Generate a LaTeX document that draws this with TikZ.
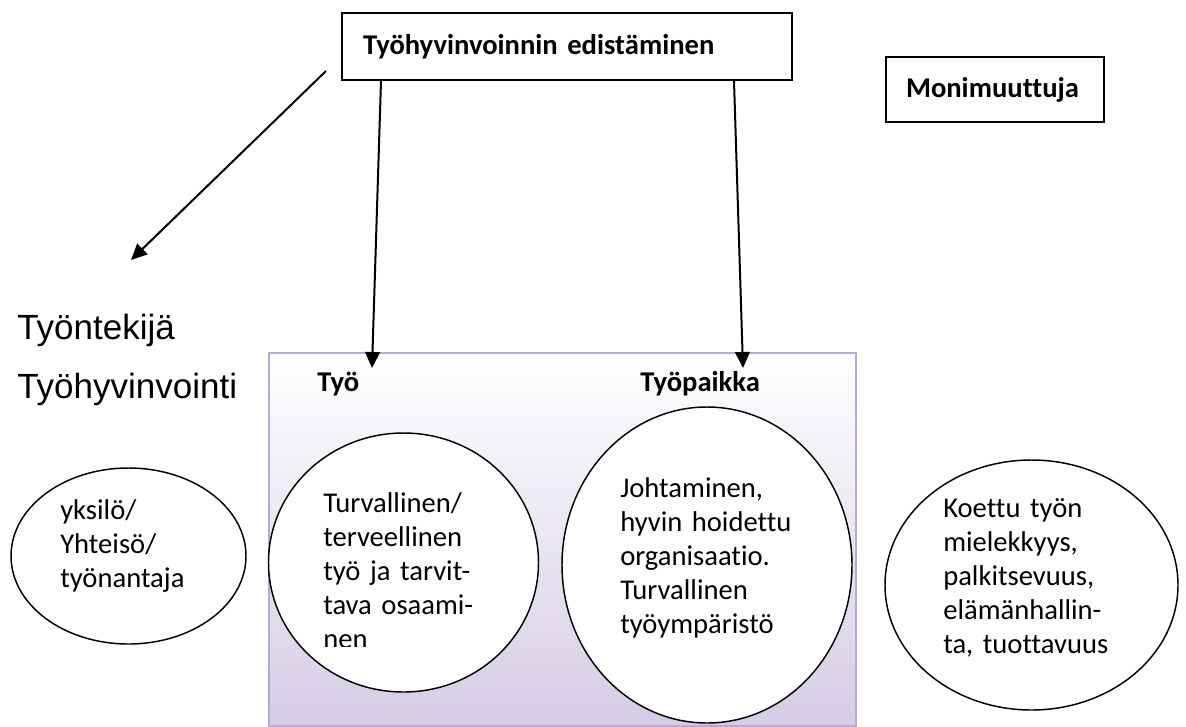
\documentclass[tikz,border=0pt]{standalone}
\usepackage{fontspec}
\setmainfont{Carlito}[Ligatures={NoCommon}]
\newfontfamily\arialf{Liberation Sans}
\usetikzlibrary{arrows.meta,shapes.geometric}
\definecolor{lav}{RGB}{213,204,229}
\definecolor{lavborder}{RGB}{184,170,214}
\begin{document}
\begin{tikzpicture}[x=0.75pt,y=-0.75pt,
  box/.style={draw=black, line width=1.5pt, rectangle, inner ysep=0pt, align=left},
  arr/.style={line width=1.5pt, -{Triangle[width=11pt,length=12pt]}},
  bubble/.style={draw=black, line width=1.1pt, ellipse, fill=white, inner sep=0pt},
  ctext/.style={font=\fontsize{21.45pt}{25.5pt}\selectfont, align=left, anchor=base west, inner sep=0pt, text width=200pt},
  btext/.style={font=\fontsize{21.45pt}{25.5pt}\selectfont\bfseries, anchor=base west, inner sep=0pt},
  atext/.style={font=\fontsize{26.25pt}{30pt}\selectfont\arialf, anchor=base west, inner sep=0pt},
]
\useasboundingbox (0,0) rectangle (1186,726);

% panel
\node[draw=lavborder, line width=1.5pt, top color=white, bottom color=lav,
      minimum width=440.25pt, minimum height=279.75pt, inner sep=0pt, anchor=north west]
      (panel) at (268,352) {};

% top boxes
\node[box, minimum width=337.5pt, minimum height=50.25pt, text width=306pt, inner xsep=15.75pt,
      font=\fontsize{21.45pt}{25.5pt}\selectfont\bfseries] (title) at (567,46.5) {Työhyvinvoinnin edistäminen};
\node[box, minimum width=163.5pt, minimum height=48.75pt, text width=148.5pt, inner xsep=7.5pt,
      font=\fontsize{21.45pt}{25.5pt}\selectfont\bfseries] (moni) at (995,89.5) {\hspace*{7.5pt}Monimuuttuja};

% arrows
\coordinate (diagstart) at (326,71);
\coordinate (diagtip) at (131,260);
\coordinate (tip1) at (372,368);
\coordinate (tip2) at (743,368);
\draw[arr] (diagstart) -- (diagtip);
\draw[arr] (title.south -| 381,0) -- (tip1);
\draw[arr] (title.south -| 734,0) -- (tip2);

% labels
\node[atext] (tyontekija) at (17,339) {Työntekijä};
\node[atext] (tyohyv) at (17,398) {Työhyvinvointi};
\node[btext] (tyo) at (317,391) {Työ};
\node[btext] (tyopaikka) at (640,391) {Työpaikka};

% ellipses
\node[bubble, minimum width=176.25pt, minimum height=132pt] (e1) at (128.5,556) {};
\node[bubble, minimum width=202.5pt, minimum height=194.25pt] (e2) at (403.5,562.5) {};
\node[bubble, minimum width=217.5pt, minimum height=237pt] (e3) at (707,565) {};
\node[bubble, minimum width=219.75pt, minimum height=187.5pt] (e4) at (1031.5,585) {};

% texts
\node[ctext] (t1) at (60,519) {yksilö/\\Yhteisö/\\työnantaja};
\begin{scope}
\clip (260,400) rectangle (560,646);
\node[ctext] (t2) at (323,512) {Turvallinen/\\terveellinen\\työ ja tarvit-\\tava osaami-\\nen};
\end{scope}
\node[ctext] (t3) at (620,497) {Johtaminen,\\hyvin hoidettu\\organisaatio.\\Turvallinen\\työympäristö};
\node[ctext] (t4) at (943,517) {Koettu työn\\mielekkyys,\\palkitsevuus,\\elämänhallin-\\ta, tuottavuus};
\end{tikzpicture}
\end{document}
